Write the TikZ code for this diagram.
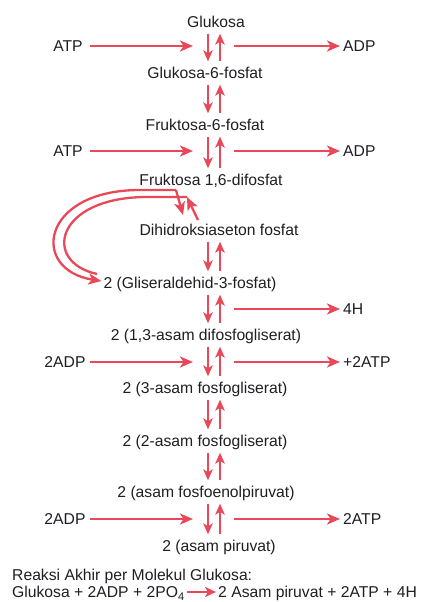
\documentclass[tikz,border=0pt]{standalone}
\usepackage{fontspec}
\setmainfont{Liberation Sans}
\usepackage{tikz}
\usetikzlibrary{arrows.meta}
\definecolor{rxn}{RGB}{232,72,88}
\definecolor{ink}{RGB}{30,30,36}

\begin{document}
\begin{tikzpicture}[
  x=1pt,y=-1pt,
  font=\fontsize{15.7}{18}\selectfont,
  text=ink,
  fl/.style={draw=rxn,line width=2.3pt,-{Stealth[length=13pt,width=11pt,inset=3.5pt]}},
  vfl/.style={fl,-{Stealth[length=11pt,width=9.5pt,inset=3pt]}},
  met/.style={inner xsep=2pt,inner ysep=0pt,minimum height=23pt,text height=11pt,text depth=0pt},
  side/.style={inner sep=3pt,text height=11pt,text depth=0pt},
  eq/.style={side,inner xsep=2pt,anchor=west}
]
\useasboundingbox (0,0) rectangle (422,602);
% arrow columns
\coordinate (dn) at (208,0);
\coordinate (up) at (220,0);
\coordinate (la) at (90,0);
\coordinate (lb) at (193,0);
\coordinate (ra) at (234,0);
% metabolites
\node[met] (g)   at (216,22)  {Glukosa};
\node[met] (g6p) at (205,73)  {Glukosa-6-fosfat};
\node[met] (f6p) at (205,125) {Fruktosa-6-fosfat};
\node[met] (f16) at (211,180) {Fruktosa 1,6-difosfat};
\node[met] (dha) at (219,230) {Dihidroksiaseton fosfat};
\node[met] (gap) at (190,283) {2 (Gliseraldehid-3-fosfat)};
\node[met] (bpg) at (206,335) {2 (1,3-asam difosfogliserat)};
\node[met] (pg3) at (205,388) {2 (3-asam fosfogliserat)};
\node[met] (pg2) at (205,441) {2 (2-asam fosfogliserat)};
\node[met] (pep) at (206,492) {2 (asam fosfoenolpiruvat)};
\node[met] (pyr) at (219,546) {2 (asam piruvat)};
% reversible steps
\foreach \a/\b in {g/g6p,g6p/f6p,f6p/f16,dha/gap,gap/bpg,bpg/pg3,pg3/pg2,pg2/pep,pep/pyr} {
  \draw[vfl] (\a.south -| dn) -- (\b.north -| dn);
  \draw[vfl] (\b.north -| up) -- (\a.south -| up);
}
% side reactants / products
\node[side] (atp1) at (68,46)  {ATP};
\node[side,anchor=west] (adp1) at (340,46) {ADP};
\node[side] (atp2) at (68,151) {ATP};
\node[side,anchor=west] (adp2) at (340,151) {ADP};
\node[side,anchor=west] (h4) at (340,309) {4H};
\node[side] (adp3) at (65,362) {2ADP};
\node[side,anchor=west] (atp3) at (340,362) {+2ATP};
\node[side] (adp4) at (65,519) {2ADP};
\node[side,anchor=west] (atp4) at (340,519) {2ATP};
\foreach \s in {atp1,atp2,adp3,adp4} {\draw[fl] (\s -| la) -- (\s -| lb);}
\foreach \s in {adp1,adp2,h4,atp3,atp4} {\draw[fl] (\s -| ra) -- (\s.west);}
% aldolase split
\coordinate (oc) at (176,190);
\coordinate (ot) at (183,215);
\coordinate (ic) at (187,197);
\coordinate (it) at (198,220);
\draw[fl] (oc) -- (ot);
\draw[fl] (oc) -- (140,190) .. controls (40,190) and (30,270) .. (gap.west |- 0,281);
\draw[fl] (it) -- (ic);
\draw[draw=rxn,line width=2.3pt] (ic) -- (145,197) .. controls (55,198) and (42,262) .. (97,274);
% overall reaction
\node[eq] (rk) at (10,575) {Reaksi Akhir per Molekul Glukosa:};
\node[eq] (eq1) at (10,592) {Glukosa + 2ADP + 2PO\textsubscript{4}};
\node[eq] (eq2) at (216,592) {2 Asam piruvat + 2ATP + 4H};
\draw[fl,-{Stealth[length=11pt,width=10pt,inset=3pt]}] (eq1.east) -- (eq2.west);
\end{tikzpicture}
\end{document}
